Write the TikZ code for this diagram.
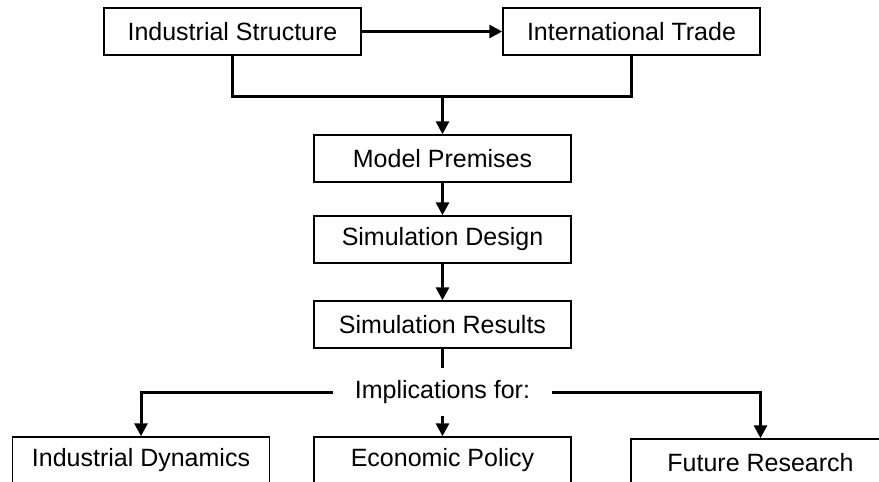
\documentclass[tikz,border=0pt]{standalone}
\usepackage{fontspec}
\setmainfont{Liberation Sans}
\usetikzlibrary{arrows.meta}
\begin{document}
\begin{tikzpicture}[x=1pt,y=1pt,
  box/.style={draw=black,line width=1.5pt,fill=white,minimum width=257pt,minimum height=47pt,inner sep=0pt,font=\fontsize{25}{30}\selectfont},
  conn/.style={line width=3pt,draw=black},
  arr/.style={conn,-{Triangle[length=13pt,width=13pt]}},
  lbl/.style={inner xsep=22pt,inner ysep=0pt,minimum height=48pt,font=\fontsize{25}{30}\selectfont}]
\useasboundingbox (0,0) rectangle (879,-482);
\clip (0,0) rectangle (879,-482);
\node[box] (is) at (232.5,-31.5) {Industrial Structure};
\node[box] (it) at (631.5,-31.5) {International Trade};
\node[box] (mp) at (442.5,-158.5) {Model Premises};
\node[box] (sd) at (442.5,-239.5) {Simulation Design};
\node[box] (sr) at (442.5,-324.5) {Simulation Results};
\node[lbl] (im) at (442.5,-392) {Implications for:};
\node[box] (id) at (141,-460.5) {Industrial Dynamics};
\node[box] (ep) at (442.5,-460.5) {Economic Policy};
\node[box,minimum width=259pt] (fr) at (760.5,-462.5) {Future Research};
\coordinate (j) at (442.5,-96);
\draw[arr] (is.east) -- (it.west);
\draw[conn] (is.south) |- (j) -| (it.south);
\draw[arr] (j) -- (mp.north);
\draw[arr] (mp.south) -- (sd.north);
\draw[arr] (sd.south) -- (sr.north);
\draw[conn] (sr.south) -- (im.north);
\draw[arr] (im.south) -- (ep.north);
\draw[arr] (im.west) -| (id.north);
\draw[arr] (im.east) -| (fr.north);
\end{tikzpicture}
\end{document}
